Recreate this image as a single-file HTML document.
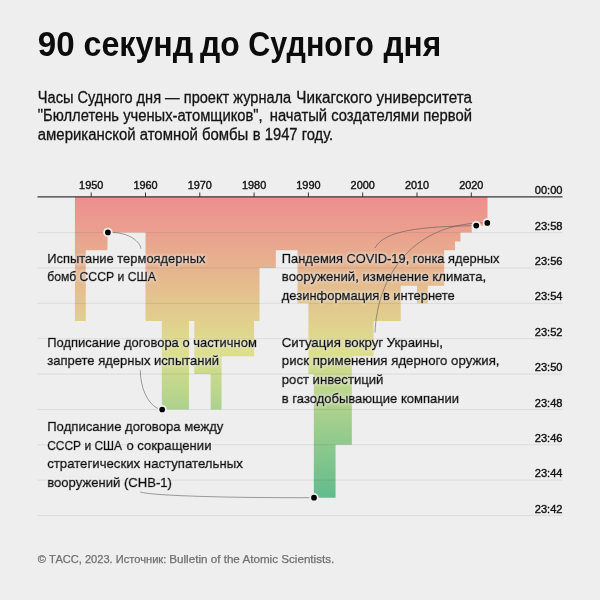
<!DOCTYPE html>
<html lang="ru"><head><meta charset="utf-8"><title>90 секунд до Судного дня</title>
<style>
html,body{margin:0;padding:0;background:#eeeeee;}
body{width:600px;height:600px;overflow:hidden;}
svg{display:block;font-family:"Liberation Sans",Arial,sans-serif;}
.title{font-size:35px;font-weight:bold;fill:#0c0c0c;}
.sub text{font-size:15.6px;fill:#141414;stroke:#141414;stroke-width:.3;}
.grid line{stroke:#000;stroke-opacity:.08;stroke-width:1;}
.yl text{font-size:11.1px;text-anchor:end;fill:#141414;stroke:#141414;stroke-width:.4;}
.xl text{font-size:10.9px;text-anchor:middle;fill:#141414;stroke:#141414;stroke-width:.4;}
.ticks line{stroke:#333;stroke-width:1;}
.lab text{font-size:13.45px;fill:#0a0a0a;stroke:#0a0a0a;stroke-width:.6;}
.lead path{fill:none;stroke:#505050;stroke-width:.55;}
.foot{font-size:11.35px;fill:#707070;stroke:#707070;stroke-width:.25;}
</style></head>
<body>
<svg width="600" height="600" viewBox="0 0 600 600">
<defs>
<linearGradient id="g" gradientUnits="userSpaceOnUse" x1="0" y1="197" x2="0" y2="515">
<stop offset="0" stop-color="#ee8e8f"/>
<stop offset="0.485" stop-color="#dddf8d"/>
<stop offset="1" stop-color="#53b88d"/>
</linearGradient>
<filter id="h" x="0" y="0" width="600" height="600" filterUnits="userSpaceOnUse">
<feMorphology in="SourceAlpha" operator="dilate" radius="1.4" result="d"/>
<feGaussianBlur in="d" stdDeviation="0.9" result="b"/>
<feFlood flood-color="#eeeeee" flood-opacity="0.5"/>
<feComposite in2="b" operator="in" result="halo"/>
<feMerge><feMergeNode in="halo"/><feMergeNode in="SourceGraphic"/></feMerge>
</filter>
</defs>
<rect width="600" height="600" fill="#eeeeee"/>
<text class="title" y="56.4"><tspan x="37.8" textLength="36.8" lengthAdjust="spacingAndGlyphs">90</tspan> <tspan x="83.5" textLength="109.7" lengthAdjust="spacingAndGlyphs">секунд</tspan> <tspan x="200.1" textLength="39.8" lengthAdjust="spacingAndGlyphs">до</tspan> <tspan x="248.3" textLength="125.6" lengthAdjust="spacingAndGlyphs">Судного</tspan> <tspan x="383.5" textLength="57.7" lengthAdjust="spacingAndGlyphs">дня</tspan></text>
<g class="sub">
<text y="103"><tspan x="37.8" textLength="253.4" lengthAdjust="spacingAndGlyphs">Часы Судного дня — проект журнала</tspan> <tspan x="296.3" textLength="175.7" lengthAdjust="spacingAndGlyphs">Чикагского университета</tspan></text>
<text y="121.4"><tspan x="37.8" textLength="224.9" lengthAdjust="spacingAndGlyphs">"Бюллетень ученых-атомщиков",</tspan> <tspan x="269.8" textLength="202.2" lengthAdjust="spacingAndGlyphs">начатый создателями первой</tspan></text>
<text y="139.9"><tspan x="37.8" textLength="210.4" lengthAdjust="spacingAndGlyphs">американской атомной бомбы</tspan> <tspan x="252.8" textLength="80.4" lengthAdjust="spacingAndGlyphs">в 1947 году.</tspan></text>
</g>
<path d="M74.91,196.8V321.01H85.77V250.29H107.49V232.61H145.5V321.01H161.79V409.41H188.94V321.01H194.37V374.05H210.66V409.41H221.52V356.37H254.1V321.01H259.53V267.97H275.82V250.29H297.54V303.33H308.4V374.05H313.83V497.81H335.55V444.77H351.84V356.37H373.56V321.01H400.71V285.65H417.0V303.33H427.86V285.65H444.15V250.29H455.01V241.45H460.44V232.61H471.7V225.8H483.3V223.3H487.5V196.8Z" fill="url(#g)"/>
<g class="grid"><line x1="37.5" x2="562.5" y1="232.61" y2="232.61"/><line x1="37.5" x2="562.5" y1="267.97" y2="267.97"/><line x1="37.5" x2="562.5" y1="303.33" y2="303.33"/><line x1="37.5" x2="562.5" y1="338.69" y2="338.69"/><line x1="37.5" x2="562.5" y1="374.05" y2="374.05"/><line x1="37.5" x2="562.5" y1="409.41" y2="409.41"/><line x1="37.5" x2="562.5" y1="444.77" y2="444.77"/><line x1="37.5" x2="562.5" y1="480.13" y2="480.13"/><line x1="37.5" x2="562.5" y1="515.49" y2="515.49"/></g>
<line x1="37.5" x2="562.5" y1="196.85" y2="196.85" stroke="#383838" stroke-width="1.25"/>
<g class="ticks"><line x1="91.2" x2="91.2" y1="192.5" y2="197"/><line x1="145.5" x2="145.5" y1="192.5" y2="197"/><line x1="199.8" x2="199.8" y1="192.5" y2="197"/><line x1="254.1" x2="254.1" y1="192.5" y2="197"/><line x1="308.4" x2="308.4" y1="192.5" y2="197"/><line x1="362.7" x2="362.7" y1="192.5" y2="197"/><line x1="417.0" x2="417.0" y1="192.5" y2="197"/><line x1="471.3" x2="471.3" y1="192.5" y2="197"/></g>
<g class="xl"><text x="91.2" y="189.3">1950</text><text x="145.5" y="189.3">1960</text><text x="199.8" y="189.3">1970</text><text x="254.1" y="189.3">1980</text><text x="308.4" y="189.3">1990</text><text x="362.7" y="189.3">2000</text><text x="417.0" y="189.3">2010</text><text x="471.3" y="189.3">2020</text></g>
<g class="yl"><text x="562.5" y="194.4">00:00</text><text x="562.5" y="229.76">23:58</text><text x="562.5" y="265.12">23:56</text><text x="562.5" y="300.48">23:54</text><text x="562.5" y="335.84">23:52</text><text x="562.5" y="371.2">23:50</text><text x="562.5" y="406.56">23:48</text><text x="562.5" y="441.92">23:46</text><text x="562.5" y="477.28">23:44</text><text x="562.5" y="512.64">23:42</text></g>

<g class="lab" filter="url(#h)"><text x="47.2" y="262.5" textLength="158.2" lengthAdjust="spacingAndGlyphs">Испытание термоядерных</text><text x="47.2" y="281.1" textLength="108.6" lengthAdjust="spacingAndGlyphs">бомб СССР и США</text><text x="47.2" y="346.7" textLength="209.6" lengthAdjust="spacingAndGlyphs">Подписание договора о частичном</text><text x="47.2" y="365.3" textLength="171.9" lengthAdjust="spacingAndGlyphs">запрете ядерных испытаний</text><text x="47.2" y="431.2" textLength="176.2" lengthAdjust="spacingAndGlyphs">Подписание договора между</text><text x="47.2" y="449.8" textLength="74.8" lengthAdjust="spacingAndGlyphs">СССР и США</text><text x="126.4" y="449.8" textLength="85.1" lengthAdjust="spacingAndGlyphs">о сокращении</text><text x="47.2" y="468.4" textLength="195.6" lengthAdjust="spacingAndGlyphs">стратегических наступательных</text><text x="47.2" y="487.0" textLength="124.8" lengthAdjust="spacingAndGlyphs">вооружений (СНВ-1)</text><text x="281.8" y="262.5" textLength="217.7" lengthAdjust="spacingAndGlyphs">Пандемия COVID-19, гонка ядерных</text><text x="281.8" y="281.1" textLength="204.4" lengthAdjust="spacingAndGlyphs">вооружений, изменение климата,</text><text x="281.8" y="299.7" textLength="173.0" lengthAdjust="spacingAndGlyphs">дезинформация в интернете</text><text x="281.8" y="346.7" textLength="161.1" lengthAdjust="spacingAndGlyphs">Ситуация вокруг Украины,</text><text x="281.8" y="365.3" textLength="217.7" lengthAdjust="spacingAndGlyphs">риск применения ядерного оружия,</text><text x="281.8" y="383.9" textLength="101.6" lengthAdjust="spacingAndGlyphs">рост инвестиций</text><text x="281.8" y="402.5" textLength="177.2" lengthAdjust="spacingAndGlyphs">в газодобывающие компании</text></g>
<g class="lead">
<path d="M107.9,232.4C130,231.5 141,243 140.8,248.7"/>
<path d="M140.3,370.3C140.7,396.5 154.2,409.5 162.1,409.5"/>
<path d="M140.2,491.9C147,494.8 203,497.9 314,497.7"/>
<path d="M476.25,225.6C422,226.6 384.3,230 375,248"/>
<path d="M487.3,222.9C414.2,221.6 377.2,275 375,332.5"/>
</g>
<circle cx="107.9" cy="232.4" r="4.7" fill="#eeeeee"/><circle cx="107.9" cy="232.4" r="2.85" fill="#000"/><circle cx="162.2" cy="409.5" r="4.7" fill="#eeeeee"/><circle cx="162.2" cy="409.5" r="2.85" fill="#000"/><circle cx="314" cy="497.7" r="4.7" fill="#eeeeee"/><circle cx="314" cy="497.7" r="2.85" fill="#000"/><circle cx="476.25" cy="225.6" r="4.7" fill="#eeeeee"/><circle cx="476.25" cy="225.6" r="2.85" fill="#000"/><circle cx="487.3" cy="222.9" r="4.7" fill="#eeeeee"/><circle cx="487.3" cy="222.9" r="2.85" fill="#000"/>
<text class="foot" x="37.8" y="562.6"><tspan textLength="128.5" lengthAdjust="spacingAndGlyphs">© ТАСС, 2023. Источник:</tspan><tspan x="169.3" textLength="165" lengthAdjust="spacingAndGlyphs">Bulletin of the Atomic Scientists.</tspan></text>
</svg>
</body></html>
